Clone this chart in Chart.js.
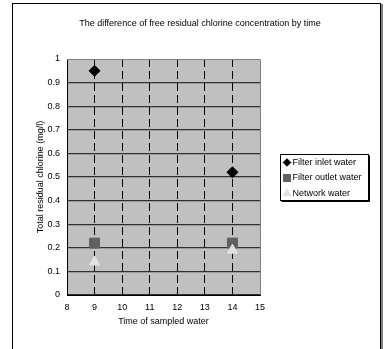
<!DOCTYPE html>
<html>
<head>
<meta charset="utf-8">
<script src="https://cdn.jsdelivr.net/npm/chart.js@4/dist/chart.umd.min.js"></script>
<style>
  html, body { margin: 0; padding: 0; background: #fff; }
  canvas { display: block; }
</style>
</head>
<body>
<canvas id="chlorineChart" width="385" height="349"></canvas>
<script>
const chartTitle = "The difference of free residual chlorine concentration by time";
const xTitle = "Time of sampled water";
const yTitle = "Total residual chlorine (mg/l)";

const sampleTimes = [9, 14];
const seriesNames = ["Filter inlet water", "Filter outlet water", "Network water"];
const inletValues = [0.95, 0.52];
const outletValues = [0.22, 0.22];
const networkValues = [0.14, 0.19];

const FONT = "'Liberation Sans', Arial, sans-serif";

function toPoints(values){
  return sampleTimes.map((t, i) => ({ x: t, y: values[i] }));
}

/* plot background, frame, title and boxed legend */
const decorations = {
  id: "decorations",
  beforeDraw(chart){
    const { ctx, chartArea: a } = chart;
    ctx.save();
    ctx.fillStyle = "#fff";
    ctx.fillRect(0, 0, chart.width, chart.height);
    ctx.fillStyle = "#c0c0c0";
    ctx.fillRect(a.left, a.top, a.right - a.left, a.bottom - a.top);

    // outer frame
    ctx.strokeStyle = "#000";
    ctx.lineWidth = 1;
    ctx.strokeRect(12.5, 3.5, 368, 400);
    ctx.beginPath();
    ctx.moveTo(382, 4);
    ctx.lineTo(382, 349);
    ctx.stroke();

    // title
    ctx.fillStyle = "#000";
    ctx.font = "9px " + FONT;
    ctx.textAlign = "center";
    ctx.textBaseline = "middle";
    ctx.fillText(chartTitle, 200, 24);
    ctx.restore();
  },
  beforeDatasetsDraw(chart){
    const { ctx, chartArea: a } = chart;
    ctx.save();
    ctx.strokeStyle = "#808080";
    ctx.lineWidth = 1;
    ctx.beginPath();
    ctx.moveTo(a.left, a.top + 0.5);
    ctx.lineTo(a.right + 0.5, a.top + 0.5);
    ctx.lineTo(a.right + 0.5, a.bottom);
    ctx.stroke();
    ctx.restore();
  },
  afterDraw(chart){
    const { ctx } = chart;
    const box = { x: 280.5, y: 154.5, w: 88, h: 46 };
    const rows = [162.5, 178, 193.5];
    const legendRadius = [3.8, 5, 4.5];
    ctx.save();
    ctx.strokeStyle = "#000";
    ctx.lineWidth = 1;
    ctx.strokeRect(box.x, box.y, box.w, box.h);
    ctx.beginPath();
    ctx.moveTo(box.x + box.w + 1, box.y + 1);
    ctx.lineTo(box.x + box.w + 1, box.y + box.h + 1);
    ctx.lineTo(box.x + 1, box.y + box.h + 1);
    ctx.stroke();

    ctx.font = "9px " + FONT;
    ctx.textAlign = "left";
    ctx.textBaseline = "middle";
    chart.data.datasets.forEach((ds, i) => {
      ctx.fillStyle = ds.backgroundColor;
      ctx.strokeStyle = ds.borderColor;
      ctx.lineWidth = 1;
      Chart.helpers.drawPoint(ctx, {
        pointStyle: ds.pointStyle,
        radius: legendRadius[i],
        rotation: 0,
        borderWidth: 1
      }, 287, rows[i]);
      ctx.fillStyle = "#000";
      ctx.fillText(ds.label, 292.5, rows[i]);
    });
    ctx.restore();
  }
};

const ctx = document.getElementById("chlorineChart").getContext("2d");

new Chart(ctx, {
  type: "scatter",
  data: {
    datasets: [
      {
        label: seriesNames[0],
        data: toPoints(inletValues),
        pointStyle: "rectRot",
        pointRadius: 5.5,
        backgroundColor: "#000",
        borderColor: "#000",
        order: 3
      },
      {
        label: seriesNames[1],
        data: toPoints(outletValues),
        pointStyle: "rect",
        pointRadius: 7,
        backgroundColor: "#606060",
        borderColor: "#606060",
        order: 2
      },
      {
        label: seriesNames[2],
        data: toPoints(networkValues),
        pointStyle: "triangle",
        pointRadius: 6,
        backgroundColor: "#e2e2e2",
        borderColor: "#e2e2e2",
        order: 1
      }
    ]
  },
  options: {
    responsive: false,
    animation: false,
    devicePixelRatio: 1,
    layout: { padding: { left: 0, top: 59, right: 125, bottom: 0 } },
    plugins: {
      legend: { display: false },
      title: { display: false },
      tooltip: { enabled: false }
    },
    scales: {
      x: {
        type: "linear",
        min: 8,
        max: 15,
        afterFit(scale){ scale.height = 54; },
        ticks: {
          stepSize: 1,
          padding: 7,
          color: "#000",
          font: { family: FONT, size: 9 }
        },
        grid: {
          drawTicks: false,
          lineWidth: 1,
          color: c => (c.tick && (c.tick.value === 8 || c.tick.value === 15)) ? "rgba(0,0,0,0)" : "#000"
        },
        border: { display: true, color: "#000", width: 1, dash: [8, 4] },
        title: {
          display: true,
          text: xTitle,
          color: "#000",
          font: { family: FONT, size: 9 },
          padding: { top: 0, bottom: 22 }
        }
      },
      y: {
        min: 0,
        max: 1,
        afterFit(scale){ scale.width = 67; },
        ticks: {
          stepSize: 0.1,
          padding: 7,
          color: "#000",
          font: { family: FONT, size: 9 },
          callback: v => String(Math.round(v * 10) / 10)
        },
        grid: {
          drawTicks: false,
          lineWidth: 1.2,
          color: c => (c.tick && c.tick.value === 1) ? "rgba(0,0,0,0)" : "#303030"
        },
        border: { display: true, color: "#000", width: 1 },
        title: {
          display: true,
          text: yTitle,
          color: "#000",
          font: { family: FONT, size: 9 },
          padding: { top: 35, bottom: 0 }
        }
      }
    }
  },
  plugins: [decorations]
});
</script>
</body>
</html>
